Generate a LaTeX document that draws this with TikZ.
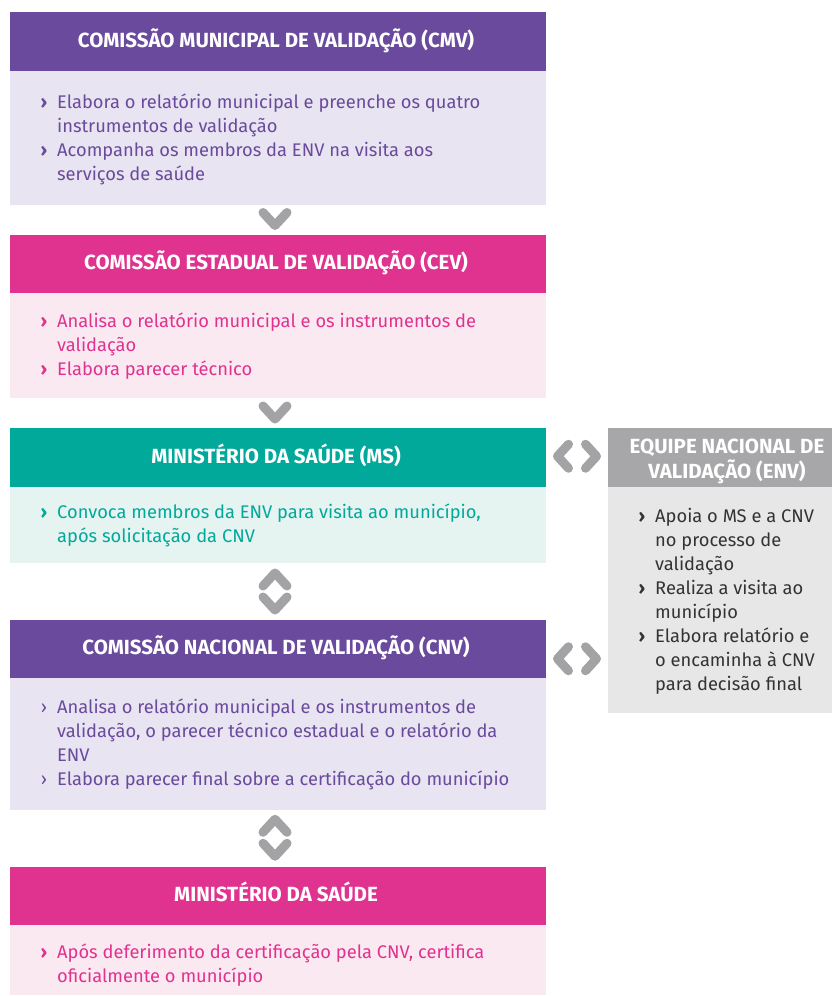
\documentclass[tikz,border=0pt]{standalone}
\usepackage{fontspec}
\setmainfont{Fira Sans}
\usetikzlibrary{calc}
\definecolor{pur}{HTML}{6A4A9C}
\definecolor{purl}{HTML}{E8E4F1}
\definecolor{mag}{HTML}{E0328F}
\definecolor{magl}{HTML}{FBE9F1}
\definecolor{tea}{HTML}{00A99A}
\definecolor{teal2}{HTML}{E5F3F1}
\definecolor{gry}{HTML}{A7A7A9}
\definecolor{gryl}{HTML}{E7E7E8}
\definecolor{chev}{HTML}{A3A3A5}
\definecolor{dtext}{HTML}{333333}
\newcommand\bu{\textbf{›}}
\newcommand\bt{›}
\newcommand\BL{\llap{\bu\hspace{10pt}}}
\newcommand\TL{\llap{\bt\hspace{10pt}}}
\begin{document}
\begin{tikzpicture}[x=1pt,y=-1pt,
  hd/.style={rectangle, draw=none, anchor=north west, minimum width=536pt, minimum height=58.5pt, inner sep=0, outer sep=0},
  bd/.style={rectangle, draw=none, anchor=north, minimum width=536pt, inner sep=0, outer sep=0},
  hdtext/.style={text=white, font=\fontsize{20.5}{25}\selectfont\bfseries, anchor=base, inner sep=0, align=center},
  txt/.style={font=\fontsize{18.3}{24}\selectfont, anchor=base west, inner sep=0, align=left},
  chv/.style={draw=chev, line width=9pt, line cap=round, line join=round},
  chev down/.pic={\draw[chv] (-12,-7)--(0,6)--(12,-7);},
  chev up/.pic={\draw[chv] (-12,7)--(0,-6)--(12,7);},
  chev left/.pic={\draw[chv] (6,-12)--(-5,0)--(6,12);},
  chev right/.pic={\draw[chv] (-6,-12)--(5,0)--(-6,12);}
]
\useasboundingbox[fill=white] (0,0) rectangle (832,996);

% CMV
\node[hd, fill=pur] (cmvh) at (10,12) {};
\node[bd, fill=purl, minimum height=134pt] (cmvb) at (cmvh.south) {};
\node[hdtext] (cmvht) at (276,47) {COMISSÃO MUNICIPAL DE VALIDAÇÃO (CMV)};
\node[txt, text=pur] (cmvt) at (57,180) {\BL Elabora o relatório municipal e preenche os quatro\\instrumentos de validação\\\BL Acompanha os membros da ENV na visita aos\\serviços de saúde};

% CEV
\node[hd, fill=mag] (cevh) at (10,234.5) {};
\node[bd, fill=magl, minimum height=105pt] (cevb) at (cevh.south) {};
\node[hdtext] (cevht) at (276,269.5) {COMISSÃO ESTADUAL DE VALIDAÇÃO (CEV)};
\node[txt, text=mag] (cevt) at (57,375) {\BL Analisa o relatório municipal e os instrumentos de\\validação\\\BL Elabora parecer técnico};

% MS
\node[hd, fill=tea] (msh) at (10,428) {};
\node[bd, fill=teal2, minimum height=76pt] (msb) at (msh.south) {};
\node[hdtext] (msht) at (276,463) {MINISTÉRIO DA SAÚDE (MS)};
\node[txt, text=tea] (mst) at (57,542) {\BL Convoca membros da ENV para visita ao município,\\após solicitação da CNV};

% CNV
\node[hd, fill=pur] (cnvh) at (10,619.5) {};
\node[bd, fill=purl, minimum height=132pt] (cnvb) at (cnvh.south) {};
\node[hdtext] (cnvht) at (276,654.5) {COMISSÃO NACIONAL DE VALIDAÇÃO (CNV)};
\node[txt, text=pur] (cnvt) at (57,785) {\TL Analisa o relatório municipal e os instrumentos de\\validação, o parecer técnico estadual e o relatório da\\ENV\\\TL Elabora parecer final sobre a certificação do município};

% MS final
\node[hd, fill=mag] (msfh) at (10,866.5) {};
\node[bd, fill=magl, minimum height=70pt] (msfb) at (msfh.south) {};
\node[hdtext] (msfht) at (276,901.5) {MINISTÉRIO DA SAÚDE};
\node[txt, text=mag] (msft) at (57,982) {\BL Após deferimento da certificação pela CNV, certifica\\oficialmente o município};

% ENV
\node[rectangle, draw=none, fill=gry, anchor=north west, minimum width=224pt, minimum height=59pt, inner sep=0, outer sep=0] (envh) at (608,428) {};
\node[rectangle, draw=none, fill=gryl, anchor=north, minimum width=224pt, minimum height=226pt, inner sep=0, outer sep=0] (envb) at (envh.south) {};
\node[hdtext] (envht) at (727,478) {EQUIPE NACIONAL DE\\VALIDAÇÃO (ENV)};
\node[txt, text=dtext] (envt) at (655,690) {\BL Apoia o MS e a CNV\\no processo de\\validação\\\BL Realiza a visita ao\\município\\\BL Elabora relatório e\\o encaminha à CNV\\para decisão final};

% connectors (chevrons)
\path ($(cmvb.south)!0.5!(cevh.north)$) ++(-3,0) pic {chev down};
\path ($(cevb.south)!0.5!(msh.north)$) ++(-3,0) pic {chev down};
\path ($(msb.south)!0.5!(cnvh.north)$) ++(-3,-12) pic {chev up};
\path ($(msb.south)!0.5!(cnvh.north)$) ++(-3,13) pic {chev down};
\path ($(cnvb.south)!0.5!(msfh.north)$) ++(-3,-13) pic {chev up};
\path ($(cnvb.south)!0.5!(msfh.north)$) ++(-3,12) pic {chev down};
\coordinate (m1) at ($(msh.east)!0.5!(msh.east -| envh.west)$);
\path (m1) ++(-14.5,-1) pic {chev left};
\path (m1) ++(14.5,-1) pic {chev right};
\coordinate (m2) at ($(cnvh.east)!0.5!(cnvh.east -| envh.west)$);
\path (m2) ++(-14.5,10) pic {chev left};
\path (m2) ++(14.5,10) pic {chev right};
\end{tikzpicture}
\end{document}
